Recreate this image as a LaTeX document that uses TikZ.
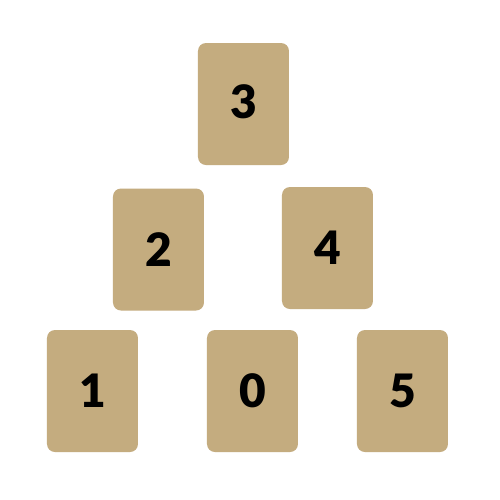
\documentclass[tikz,border=0pt]{standalone}
\usepackage{fontspec}
\setmainfont{Lato}[BoldFont={Lato Black}]
\usepackage{tikz}
\usetikzlibrary{positioning}
\definecolor{cardtan}{RGB}{196,172,127}
\newcommand{\cardwidth}{45.5pt}
\newcommand{\cardheight}{61pt}

\begin{document}
\begin{tikzpicture}[x=0.5pt, y=-0.5pt, node distance=0pt, outer sep=0pt]
\tikzstyle{card}=[rectangle, rounded corners=4pt, minimum height=\cardheight, minimum width=\cardwidth, fill=cardtan, inner sep=0pt, font=\fontsize{23}{23}\selectfont\bfseries]
\useasboundingbox[fill=white] (0,0) rectangle (500,500);

% top
\node[card] (card3) at (243.5,104) {\raisebox{2.75pt}{3}};

% middle row
\node[card] (card2) at (158.5,249.5) {2};
\node[card] (card4) at (327.5,248) {4};

% bottom row
\node[card] (card0) at (252.5,391) {0};
\node[card] (card1) [left = 34.5pt of card0] {1};
\node[card] (card5) [right = 29.5pt of card0] {5};

\end{tikzpicture}
\end{document}
